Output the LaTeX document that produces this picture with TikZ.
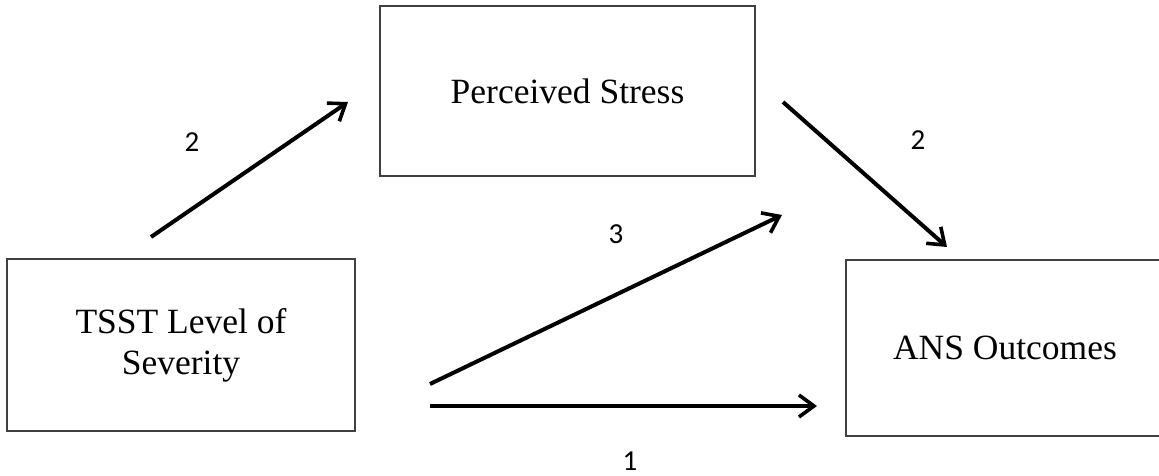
\documentclass[tikz,border=0pt]{standalone}
\usepackage{fontspec}
\setmainfont{Liberation Serif}
\newfontfamily\lblfont{Carlito}
\usetikzlibrary{arrows.meta}
\begin{document}
\begin{tikzpicture}[x=1pt,y=-1pt,
  boxnode/.style={draw=black!75, line width=1.4pt, rectangle, inner sep=0pt,
    align=center, font=\fontsize{35.5}{41}\selectfont},
  conn/.style={line width=4pt, -{Straight Barb[length=15pt,width=22pt,line width=3.6pt]}},
  numlbl/.style={font=\lblfont\fontsize{29}{34}\selectfont, inner sep=0pt}]
\useasboundingbox (0,0) rectangle (1159,476);
\node[boxnode, minimum width=348pt, minimum height=172pt] (tsst) at (181,345) {TSST Level of\\Severity};
\node[boxnode, minimum width=375pt, minimum height=170pt] (ps) at (567.5,91) {Perceived Stress};
\begin{scope}
\clip (0,0) rectangle (1159,476);
\node[boxnode, minimum width=318pt, minimum height=176pt] (ans) at (1005,348) {ANS Outcomes};
\end{scope}
\coordinate (a1s) at (151,237);
\coordinate (a1e) at (348,102);
\coordinate (a2s) at (783,102);
\coordinate (a2e) at (947,247);
\coordinate (a3s) at (430,384);
\coordinate (a3e) at (782,215);
\coordinate (a4s) at (430,406);
\coordinate (a4e) at (817,406);
\draw[conn] (a1s) -- (a1e);
\draw[conn] (a2s) -- (a2e);
\draw[conn] (a3s) -- (a3e);
\draw[conn] (a4s) -- (a4e);
\node[numlbl] (l2a) at (192,142) {2};
\node[numlbl] (l2b) at (918,140) {2};
\node[numlbl] (l3) at (616,234) {3};
\node[numlbl] (l1) at (630,461) {1};
\end{tikzpicture}
\end{document}
